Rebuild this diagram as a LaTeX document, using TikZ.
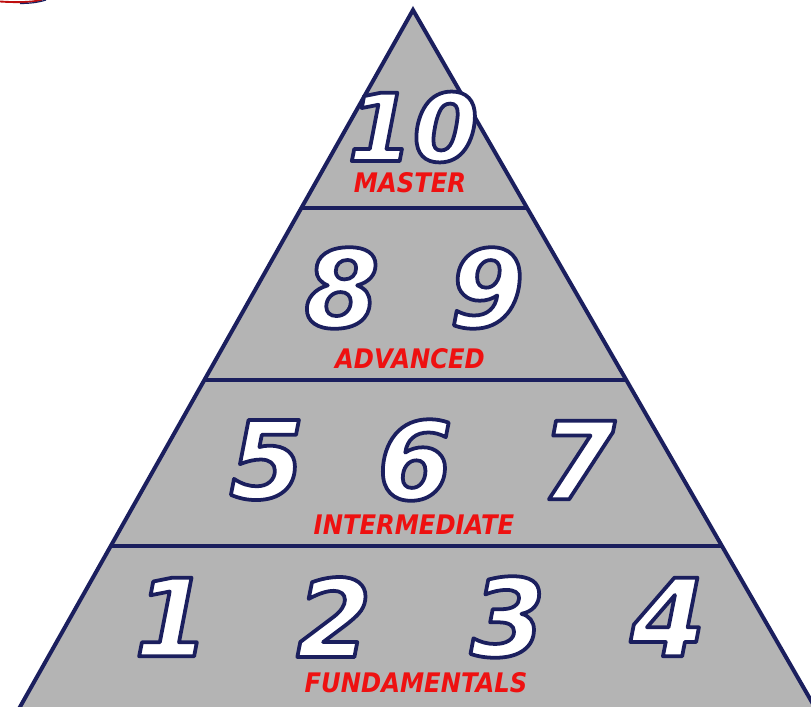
\documentclass[tikz,border=0pt]{standalone}
\usepackage{fontspec}
\usetikzlibrary{calc}
\setmainfont{DejaVu Sans}
\definecolor{pyrnavy}{HTML}{1B1F5E}
\definecolor{pyrgray}{HTML}{B4B4B4}
\definecolor{labred}{HTML}{EE1111}
% white digits with a navy outline (fill, then stroke)
\newcommand{\lvl}[1]{\special{pdf:literal direct 0.106 0.122 0.369 RG 3.2 w 1 j 2 Tr}#1\special{pdf:literal direct 0 Tr}}
\newcommand{\tierlab}[1]{\scalebox{0.9}[1]{#1}}

\begin{document}
\begin{tikzpicture}[x=0.03cm, y=-0.03cm,
  pyramid/.style={draw=pyrnavy, fill=pyrgray, line width=3.4pt, line join=miter},
  tierline/.style={draw=pyrnavy, line width=3.4pt},
  levelnum/.style={font=\bfseries\itshape\fontsize{92}{92}\selectfont, text=white, inner sep=0pt},
  tierlabel/.style={font=\bfseries\itshape\fontsize{23}{23}\selectfont, text=labred, inner sep=0pt}]
\useasboundingbox (0,0) rectangle (811,707);
\clip (0,0) rectangle (811,707);
% logo edge, top left
\draw[labred!80!black, line width=1.6pt] (0,1.5) .. controls (15,2.5) and (30,2.5) .. (42,0);
\draw[pyrnavy, line width=1pt] (20,3.5) .. controls (30,3.5) and (38,2.5) .. (46,0);
% pyramid
\coordinate (apex) at (413,10);
\coordinate (bl) at (7,730);
\coordinate (br) at (828,730);
\draw[pyramid] (apex) -- (bl) -- (br) -- cycle;
\foreach \t in {0.275, 0.5139, 0.7444}
  \draw[tierline] ($(apex)!\t!(bl)$) -- ($(apex)!\t!(br)$);
% master
\node[levelnum, font=\bfseries\itshape\fontsize{80}{80}\selectfont] (n10) at (413,127) {\lvl{10}};
\node[tierlabel] (master) at (410,183) {\tierlab{MASTER}};
% advanced
\node[levelnum] (n8) at (342,288) {\lvl{8}};
\node[levelnum] (n9) at (487,288) {\lvl{9}};
\node[tierlabel] (advanced) at (410,359) {\tierlab{ADVANCED}};
% intermediate
\node[levelnum] (n5) at (267,460) {\lvl{5}};
\node[levelnum] (n6) at (415,460) {\lvl{6}};
\node[levelnum] (n7) at (578,460) {\lvl{7}};
\node[tierlabel] (intermediate) at (414,525) {\tierlab{INTERMEDIATE}};
% fundamentals
\node[levelnum] (n1) at (172,617) {\lvl{1}};
\node[levelnum] (n2) at (334,617) {\lvl{2}};
\node[levelnum] (n3) at (508,617) {\lvl{3}};
\node[levelnum] (n4) at (668,617) {\lvl{4}};
\node[tierlabel] (fundamentals) at (416,683) {\tierlab{FUNDAMENTALS}};
\end{tikzpicture}
\end{document}
